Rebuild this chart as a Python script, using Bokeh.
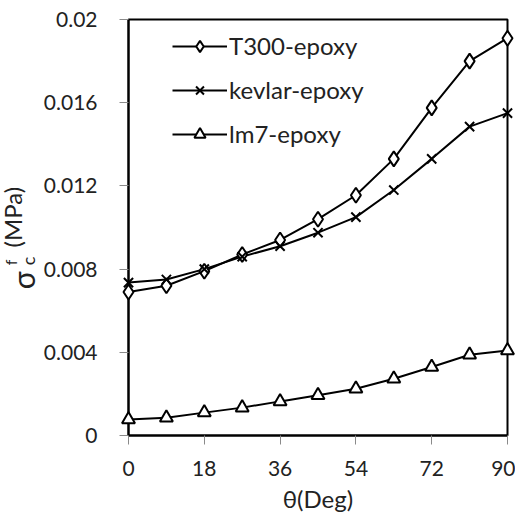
import math
from bokeh.plotting import figure
from bokeh.models import Range1d, FixedTicker, Legend, LegendItem
from bokeh.core.properties import value
from bokeh.embed import file_html
from bokeh.resources import INLINE

# ---- data ----
theta = [0, 9, 18, 27, 36, 45, 54, 63, 72, 81, 90]
t300 = [0.0069, 0.0072, 0.0079, 0.0087, 0.0094, 0.0104, 0.01155, 0.0133, 0.01575, 0.0180, 0.0191]
kevlar = [0.00735, 0.0075, 0.0080, 0.0086, 0.0091, 0.00975, 0.0105, 0.0118, 0.0133, 0.01485, 0.0155]
lm7 = [0.00077, 0.00085, 0.0011, 0.00134, 0.00164, 0.00193, 0.00225, 0.00273, 0.00329, 0.00388, 0.00409]
series_names = ["T300-epoxy", "kevlar-epoxy", "lm7-epoxy"]
x_ticks = [0, 18, 36, 54, 72, 90]
y_ticks = [0, 0.004, 0.008, 0.012, 0.016, 0.02]
y_tick_labels = ["0", "0.004", "0.008", "0.012", "0.016", "0.02"]
x_title = "θ(Deg)"
y_title_parts = ["σ", "f", "c", "(MPa)"]

FONT = "Lato"
TXT = "#222222"

X0, X1, Y0, Y1 = 0, 90, 0, 0.02
W, H = 515, 515
BL, BR, BT, BB = 128, 8, 19, 78
FW, FH = W - BL - BR, H - BT - BB

p = figure(width=W, height=H, output_backend="svg", toolbar_location=None,
           x_range=Range1d(X0, X1), y_range=Range1d(Y0, Y1),
           min_border_left=BL, min_border_right=BR, min_border_top=BT, min_border_bottom=BB)
p.grid.visible = False
p.outline_line_color = "black"
p.outline_line_width = 2
p.background_fill_color = "white"
p.border_fill_color = "white"

for ax in (p.xaxis[0], p.yaxis[0]):
    ax.axis_line_color = "black"
    ax.axis_line_width = 2
    ax.major_tick_line_color = "#8a8a8a"
    ax.major_tick_line_width = 1
    ax.major_tick_in = 0
    ax.major_tick_out = 9
    ax.minor_tick_line_color = None
    ax.major_label_text_font = FONT
    ax.major_label_text_font_size = "21px"
    ax.major_label_text_color = TXT

p.xaxis.ticker = FixedTicker(ticks=x_ticks)
p.yaxis.ticker = FixedTicker(ticks=y_ticks)
p.yaxis.major_label_overrides = {v: s for v, s in zip(y_ticks, y_tick_labels)}
p.xaxis.major_label_standoff = 16
p.yaxis.major_label_standoff = 22
p.xaxis.axis_label = x_title
p.xaxis.axis_label_text_font = FONT
p.xaxis.axis_label_text_font_size = "24px"
p.xaxis.axis_label_text_font_style = "normal"
p.xaxis.axis_label_standoff = 5
p.xaxis.axis_label_text_color = TXT

lw = 2
r1l = p.line(theta, t300, line_color="black", line_width=lw)
r1m = p.scatter(theta, t300, marker="diamond", size=15, fill_color="white", line_color="black", line_width=2, level="overlay")
r2l = p.line(theta, kevlar, line_color="black", line_width=lw)
r2m = p.scatter(theta, kevlar, marker="x", size=13, line_color="black", line_width=2, level="overlay")
r3l = p.line(theta, lm7, line_color="black", line_width=lw)
r3m = p.scatter(theta, lm7, marker="triangle", size=13, fill_color="white", line_color="black", line_width=2, level="overlay")

legend = Legend(items=[
    LegendItem(label=series_names[0], renderers=[r1l, r1m]),
    LegendItem(label=series_names[1], renderers=[r2l, r2m]),
    LegendItem(label=series_names[2], renderers=[r3l, r3m]),
], location=(44, 287), padding=0, margin=0, spacing=15,
    glyph_width=55, glyph_height=28, label_height=28, label_standoff=2,
    label_text_font=FONT, label_text_font_size="24px", label_text_color=TXT,
    border_line_color=None, background_fill_alpha=0)
p.add_layout(legend)

# rotated y-axis title (sigma with superscript f / subscript c, then (MPa)),
# placed by pixel offset from the frame's bottom-left corner, drawn unclipped
def px_to_data(dx, dy):
    return X0 + dx * (X1 - X0) / FW, Y0 + dy * (Y1 - Y0) / FH

def rot_text(dx, dy, t, fs):
    x, y = px_to_data(dx, dy)
    p.text(x=[x], y=[y], text=[t], angle=math.pi / 2, text_font=value(FONT),
           text_font_size=value(fs), text_color=TXT, text_align="left",
           text_baseline="alphabetic", level="overlay")

rot_text(-106, 147, y_title_parts[0], "30px")
rot_text(-118, 171, y_title_parts[1], "16px")
rot_text(-101, 171, y_title_parts[2], "18px")
rot_text(-116, 189, y_title_parts[3], "24px")

open("out.html", "w").write(file_html(p, INLINE))
